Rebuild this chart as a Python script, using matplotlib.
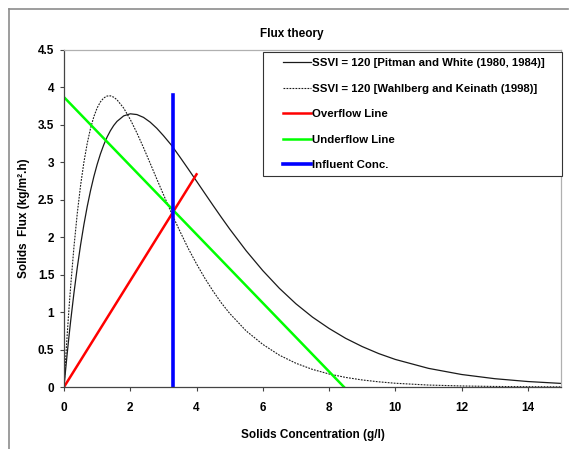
import numpy as np
import matplotlib
matplotlib.use("Agg")
import matplotlib.pyplot as plt
from matplotlib.lines import Line2D
from matplotlib.patches import Rectangle

# solids concentration (g/l) and flux values
conc = [0, 0.02, 0.05, 0.1, 0.15, 0.2, 0.3, 0.4, 0.5, 0.6, 0.7, 0.8, 0.9,
        1.0, 1.1, 1.2, 1.3, 1.4, 1.5, 1.6, 1.8, 2.0, 2.2, 2.4, 2.6, 2.8,
        3.0, 3.25, 3.5, 3.75, 4.0, 4.25, 4.5, 4.75, 5.0, 5.5, 6.0, 6.5,
        7.0, 7.5, 8.0, 8.5, 9.0, 9.5, 10.0, 11.0, 12.0, 13.0, 14.0, 15.0]
flux_pitman = [0, 0.096, 0.236, 0.461, 0.675, 0.878, 1.254, 1.593, 1.896,
               2.167, 2.408, 2.621, 2.808, 2.971, 3.113, 3.234, 3.337, 3.422,
               3.492, 3.547, 3.620, 3.648, 3.638, 3.600, 3.537, 3.455, 3.357,
               3.225, 3.070, 2.911, 2.749, 2.586, 2.424, 2.265, 2.110, 1.818,
               1.554, 1.318, 1.111, 0.933, 0.782, 0.650, 0.540, 0.446, 0.368,
               0.249, 0.167, 0.111, 0.073, 0.048]
flux_wahlberg = [0, 0.153, 0.374, 0.722, 1.044, 1.341, 1.869, 2.316, 2.690,
                 3.000, 3.251, 3.453, 3.609, 3.726, 3.808, 3.860, 3.885,
                 3.888, 3.870, 3.835, 3.725, 3.573, 3.393, 3.196, 2.988,
                 2.778, 2.571, 2.316, 2.078, 1.850, 1.644, 1.453, 1.280,
                 1.122, 0.983, 0.748, 0.569, 0.425, 0.317, 0.235, 0.174,
                 0.128, 0.094, 0.069, 0.050, 0.026, 0.014, 0.007, 0.004, 0.002]

overflow_x = [0, 4.0]
overflow_y = [0, 2.84]
underflow_x = [0, 8.45]
underflow_y = [3.87, 0]
influent_x = [3.3, 3.3]
influent_y = [0, 3.9]

plt.rcParams["font.family"] = "Liberation Sans"
plt.rcParams["font.weight"] = "bold"

fig = plt.figure(figsize=(5.73, 4.49), dpi=100)
ax = fig.add_axes([64 / 573, 62 / 449, 497 / 573, 337 / 449])

ax.plot(conc, flux_pitman, color="#1a1a1a", lw=0.9,
        label="SSVI = 120 [Pitman and White (1980, 1984)]")
ax.plot(conc, flux_wahlberg, color="#1a1a1a", lw=0.8, ls=(0, (1.6, 1.1)),
        label="SSVI = 120 [Wahlberg and Keinath (1998)]")
ax.plot(overflow_x, overflow_y, color="#ff0000", lw=1.8, label="Overflow Line")
ax.plot(underflow_x, underflow_y, color="#00ff00", lw=1.8, label="Underflow Line")
ax.plot(influent_x, influent_y, color="#0000ff", lw=2.6, label="Influent Conc.")

ax.set_xlim(0, 15)
ax.set_ylim(0, 4.5)
ax.set_xticks(range(0, 15, 2))
ax.set_yticks(np.arange(0, 4.51, 0.5))
ax.set_yticklabels(["0", "0.5", "1", "1.5", "2", "2.5", "3", "3.5", "4", "4.5"])

ax.tick_params(direction="out", length=3, width=0.8, color="#444444",
               labelsize=8.5, top=False, right=False)
ax.tick_params(axis="x", pad=7.5)
ax.tick_params(axis="y", pad=4)
for s in ["left", "bottom"]:
    ax.spines[s].set_color("#444444")
    ax.spines[s].set_linewidth(0.9)
for s in ["top", "right"]:
    ax.spines[s].set_color("#b0b0b0")
    ax.spines[s].set_linewidth(0.9)

ax.set_xlabel("Solids Concentration (g/l)", fontsize=8.5, fontweight="bold",
              labelpad=11)
ax.set_ylabel("Solids  Flux (kg/m\u00b2.h)", fontsize=8.5, fontweight="bold",
              labelpad=5.5)
fig.text(292 / 573, 1 - 34 / 449, "Flux theory", ha="center", va="center",
         fontsize=8.5, fontweight="bold")

# legend box drawn separately so its padding matches the original
ax.add_patch(Rectangle(((263 - 64) / 497, (387 - 176) / 337),
                       (562 - 263) / 497, (176 - 52) / 337,
                       transform=ax.transAxes, facecolor="white",
                       edgecolor="#333333", lw=0.8, zorder=4, clip_on=False))
leg = ax.legend(loc="upper left", bbox_to_anchor=((280 - 64) / 497, 0.985),
                fontsize=8.2, frameon=False, borderaxespad=0,
                handlelength=2.4, handletextpad=0.1, labelspacing=1.36,
                borderpad=0.3)
leg.set_zorder(5)

# outer frame of the original picture (top and left visible)
fig.add_artist(Line2D([9 / 573, 568 / 573], [1 - 9 / 449, 1 - 9 / 449],
                      color="#8c8c8c", lw=1.2, transform=fig.transFigure))
fig.add_artist(Line2D([9 / 573, 9 / 573], [1 - 9 / 449, 0],
                      color="#8c8c8c", lw=1.2, transform=fig.transFigure))

fig.savefig("out.png", dpi=100)
